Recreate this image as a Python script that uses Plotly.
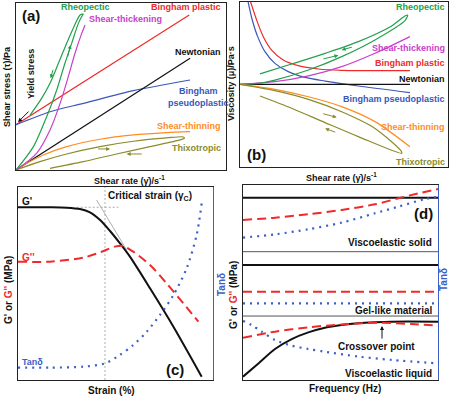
import plotly.graph_objects as go

W, H = 449, 397

# ---------------- Panel (a): shear stress vs shear rate (arbitrary units 0-100)
a_bingham_x = [0, 82.5]
a_bingham_y = [27.1, 92.8]
a_pseudo_x = [0, 16.2, 32.1, 55.9, 82.9]
a_pseudo_y = [27.1, 34.9, 39.9, 47.5, 53.9]
a_newton_x = [0, 82.9]
a_newton_y = [0, 66.9]
a_thin_x = [0, 5.1, 13, 24.1, 40, 55.9, 71.7, 82.9]
a_thin_y = [0, 4, 9, 14, 18.4, 21, 22.4, 23]
a_thixo_x = [0, 11.4, 24.1, 40, 55.9, 71.7, 79.7, 80.2, 78.1, 63.8, 47.9, 32, 16.2]
a_thixo_y = [0, 5, 9.6, 14, 17.2, 19.2, 19.8, 19, 18, 14, 9.6, 5, 1]
a_thick_x = [0, 9.8, 16.2, 21, 24.9, 28.1, 31.3, 32.9]
a_thick_y = [0, 10, 24, 39.9, 55.9, 69.9, 81.8, 86.8]
a_rheo_x = [0, 8.3, 14.6, 19.4, 23.3, 26.5, 29.7, 31.7, 32, 30.5, 27.6, 24.1, 20.2, 16.2, 12.2, 6.7]
a_rheo_y = [0, 14, 31.9, 47.9, 63.9, 75.8, 87.8, 92.8, 93.4, 92.8, 85.8, 75.8, 63.9, 51.9, 42.9, 32.9]
# small direction arrows (tail x, tail y, head x, head y)
a_arrows_rheo = [(24.4, 66.9, 26.0, 74.9), (17.8, 60.9, 16.5, 54.9)]
a_arrows_thixo = [(38.4, 12.6, 44.8, 12.6), (60.6, 9.6, 52.7, 9.6)]
a_yield_arrow = (6.7, 35.9, 1.0, 28.7)

# ---------------- Panel (b): viscosity vs shear rate
b_newton_x = [0, 81.7]
b_newton_y = [50.1, 50.1]
b_bingham_x = [4.8, 8, 11.2, 15.2, 20.8, 28, 37.7, 48.9, 81.7]
b_bingham_y = [101.2, 89.1, 79, 70.9, 64.8, 61.4, 59.4, 58.6, 58.4]
b_pseudo_x = [3.7, 5.9, 8.5, 12, 16.8, 23.2, 31.3, 40.9, 56.9, 81.7]
b_pseudo_y = [101.2, 89.1, 79, 69.9, 62.8, 57.8, 54.3, 52.1, 49.1, 45.1]
b_thick_x = [0, 16.8, 32.9, 48.9, 64.9, 81.7]
b_thick_y = [50.1, 51.7, 55.2, 60.8, 68.9, 79]
b_rheo_x = [0, 8.8, 16.8, 32.9, 48.9, 64.9, 79.3, 80.6, 79.3, 72.9, 56.9, 40.9, 24.8, 9.6]
b_rheo_y = [50.1, 50.7, 52.7, 58.8, 66.9, 77, 88.7, 92.1, 91.5, 85.5, 76, 68.9, 62.4, 56.4]
b_thin_x = [0, 16.8, 32.9, 48.9, 64.9, 81.7]
b_thin_y = [50.1, 47.1, 42.6, 36.6, 27.5, 12.3]
b_thixo_x = [0, 16.8, 32.9, 48.9, 64.9, 77.7, 77.7, 56.9, 40.9, 24.8, 9.6]
b_thixo_y = [50.1, 46.3, 41, 33.5, 23.4, 9.3, 8.3, 18.4, 26.9, 35.6, 43]
b_arrows_rheo = [(39.3, 65.3, 47.3, 67.7), (54.5, 72.9, 48.9, 70.9)]
b_arrows_thixo = [(39.3, 32.5, 46.5, 30.1), (46.5, 20.8, 40.9, 23.4)]

# ---------------- Panel (c): amplitude sweep
c_gp_x = [0, 16.4, 25, 31.8, 36.9, 42.1, 47.2, 52.3, 57.4, 67.7, 79.7, 94.2]
c_gp_y = [89.5, 89.5, 89.3, 88.6, 86.9, 82.9, 77.2, 70.8, 63.9, 47.5, 27.6, 1.7]
c_gpp_x = [0, 16.4, 33.5, 42.1, 49.7, 54, 59.1, 67.7, 76.2, 84.8, 92.5]
c_gpp_y = [61.3, 61.3, 63.4, 66.1, 69.1, 69.4, 66.5, 59.6, 50.1, 39.7, 30.2]
c_tan_x = [0, 16.4, 33.5, 44.6, 52.3, 59.1, 66, 72.8, 79.7, 86.5, 91.6, 94.2]
c_tan_y = [6.4, 6.4, 6.9, 8.6, 13, 18.1, 25, 33.7, 44, 57.9, 75.1, 91.5]
c_critical_x = 44.6
c_plateau_guide_x = [30.1, 51.5]
c_plateau_guide_y = [89.5, 89.5]
c_tangent_x = [40.3, 55.7]
c_tangent_y = [93.3, 67.4]

# ---------------- Panel (d): frequency sweeps (three regimes)
d_separators = [32.8, 65.8]
d_solid_gp = [93.5, 93.5]
d_solid_gpp_x = [0, 16.4, 33.5, 50.6, 67.7, 79.7, 89.9, 100]
d_solid_gpp_y = [82.1, 83.2, 85, 87.2, 90.1, 93.2, 95.7, 97.9]
d_solid_tan_x = [0, 16.4, 33.5, 50.6, 67.7, 79.7, 93.3, 100]
d_solid_tan_y = [73, 74.7, 77.3, 80.7, 85.5, 88.9, 92.8, 94]
d_gel_gp = [59, 59]
d_gel_gpp = [45.3, 45.3]
d_gel_tan = [39.3, 39.3]
d_liq_gp_x = [0, 7.9, 16.4, 25, 33.5, 42, 50.6, 59.1, 67.7, 76.2, 100]
d_liq_gp_y = [1.7, 8.5, 15.9, 21, 24.4, 26.8, 28.2, 29.1, 29.6, 29.9, 29.9]
d_liq_gpp_x = [0, 16.4, 33.5, 50.6, 71.1, 86.5, 100]
d_liq_gpp_y = [21.7, 24.8, 27, 28.5, 29.4, 28.7, 27.9]
d_liq_tan_x = [0, 4.4, 9.6, 16.4, 25, 33.5, 42, 59.1, 76.2, 100]
d_liq_tan_y = [30.3, 28.2, 24.8, 20.5, 17.6, 15.9, 14.5, 12, 10.3, 8.5]
d_crossover_arrow = (71.3, 20.5, 71.3, 27.7)

# ---------------- styles
GREEN = '#23a04c'
MAGENTA = '#c940c9'
RED = '#ef2a2a'
BLACK = '#111111'
BLUE = '#3b56b8'
ORANGE = '#ff8c1f'
OLIVE = '#8b8b2c'
TANBLUE = '#3d5ec6'
GRAY = '#9a9a9a'
FONT = 'Liberation Sans, Arial, sans-serif'

fig = go.Figure()


def line(xs, ys, ax, color, width=1.2, dash='solid', shape='spline', yax=None):
    fig.add_trace(go.Scatter(
        x=xs, y=ys, mode='lines', xaxis='x' + ax, yaxis='y' + (yax if yax is not None else ax),
        line=dict(color=color, width=width, dash=dash, shape=shape, smoothing=0.8),
        hoverinfo='skip', showlegend=False))


# (a)
line(a_bingham_x, a_bingham_y, '', RED, shape='linear')
line(a_pseudo_x, a_pseudo_y, '', BLUE)
line(a_newton_x, a_newton_y, '', BLACK, shape='linear')
line(a_thin_x, a_thin_y, '', ORANGE)
line(a_thixo_x, a_thixo_y, '', OLIVE)
line(a_thick_x, a_thick_y, '', MAGENTA)
line(a_rheo_x, a_rheo_y, '', GREEN)

# (b)
line(b_bingham_x, b_bingham_y, '2', RED)
line(b_pseudo_x, b_pseudo_y, '2', BLUE)
line(b_newton_x, b_newton_y, '2', BLACK, shape='linear')
line(b_thick_x, b_thick_y, '2', MAGENTA)
line(b_rheo_x, b_rheo_y, '2', GREEN)
line(b_thin_x, b_thin_y, '2', ORANGE)
line(b_thixo_x, b_thixo_y, '2', OLIVE)

# (c)
line([c_critical_x, c_critical_x], [0, 100], '3', GRAY, width=0.8, dash='2px,2px', shape='linear')
line(c_plateau_guide_x, c_plateau_guide_y, '3', GRAY, width=0.8, dash='2px,2px', shape='linear')
line(c_tangent_x, c_tangent_y, '3', GRAY, width=0.8, shape='linear')
line(c_gp_x, c_gp_y, '3', BLACK, width=2)
line(c_gpp_x, c_gpp_y, '3', RED, width=2, dash='9px,5px')
line(c_tan_x, c_tan_y, '3', TANBLUE, width=2.2, dash='2px,5px', yax='5')

# (d)
for s in d_separators:
    line([0, 100], [s, s], '4', '#555555', width=1, shape='linear')
line([0, 100], d_solid_gp, '4', BLACK, width=2, shape='linear')
line(d_solid_gpp_x, d_solid_gpp_y, '4', RED, width=2, dash='9px,5px')
line(d_solid_tan_x, d_solid_tan_y, '4', TANBLUE, width=2.2, dash='2px,5px', yax='6')
line([0, 100], d_gel_gp, '4', BLACK, width=2, shape='linear')
line([0, 100], d_gel_gpp, '4', RED, width=2, dash='9px,5px', shape='linear')
line([0, 100], d_gel_tan, '4', TANBLUE, width=2.2, dash='2px,5px', shape='linear', yax='6')
line(d_liq_gp_x, d_liq_gp_y, '4', BLACK, width=2)
line(d_liq_gpp_x, d_liq_gpp_y, '4', RED, width=2, dash='9px,5px')
line(d_liq_tan_x, d_liq_tan_y, '4', TANBLUE, width=2.2, dash='2px,5px', yax='6')

ann = []


def txt(x, y, text, color=BLACK, size=9, ref='', xanchor='center', angle=0, paper=False):
    d = dict(x=x, y=y, text='<b>' + text + '</b>', showarrow=False, xanchor=xanchor, yanchor='middle',
             textangle=angle, font=dict(family=FONT, size=size, color=color))
    if paper:
        d.update(xref='paper', yref='paper', x=x / W, y=1 - y / H)
    else:
        d.update(xref='x' + ref, yref='y' + ref)
    ann.append(d)


def arrow(t, ref, color, width=1, head=2, size=0.8):
    ann.append(dict(x=t[2], y=t[3], ax=t[0], ay=t[1], xref='x' + ref, yref='y' + ref,
                    axref='x' + ref, ayref='y' + ref, text='', showarrow=True,
                    arrowhead=head, arrowsize=size, arrowwidth=width, arrowcolor=color))


for t in a_arrows_rheo:
    arrow(t, '', GREEN)
for t in a_arrows_thixo:
    arrow(t, '', OLIVE)
arrow(a_yield_arrow, '', BLACK)
for t in b_arrows_rheo:
    arrow(t, '2', GREEN)
for t in b_arrows_thixo:
    arrow(t, '2', OLIVE)
arrow(d_crossover_arrow, '4', BLACK)

# (a) labels
txt(7.1, 92.8, '(a)', size=15)
txt(32.9, 97.6, 'Rheopectic', GREEN)
txt(33.8, 90.4, 'Shear-thickening', MAGENTA, xanchor='left')
txt(98.6, 97.6, 'Bingham plastic', RED, xanchor='right')
txt(98.6, 70.7, 'Newtonian', BLACK, xanchor='right')
txt(71.4, 43.7, 'Bingham<br>pseudoplastic', BLUE, xanchor='left')
txt(98.6, 26.3, 'Shear-thinning', ORANGE, xanchor='right')
txt(98.6, 13.2, 'Thixotropic', OLIVE, xanchor='right')
txt(7.1, 57.5, 'Yield stress', BLACK, angle=-90)

# (b) labels
txt(7.7, 7.3, '(b)', size=15, ref='2')
txt(99.5, 97, 'Rheopectic', GREEN, ref='2', xanchor='right')
txt(99.5, 72.1, 'Shear-thickening', MAGENTA, ref='2', xanchor='right')
txt(99.5, 63, 'Bingham plastic', RED, ref='2', xanchor='right')
txt(99.5, 53.3, 'Newtonian', BLACK, ref='2', xanchor='right')
txt(99.5, 41.2, 'Bingham pseudoplastic', BLUE, ref='2', xanchor='right')
txt(99.5, 24.2, 'Shear-thinning', ORANGE, ref='2', xanchor='right')
txt(99.5, 3, 'Thixotropic', OLIVE, ref='2', xanchor='right')

# (c) labels
txt(1, 92.7, "G'", BLACK, size=10, ref='3', xanchor='left')
txt(1, 63.7, "G''", RED, size=10, ref='3', xanchor='left')
txt(1, 9.3, 'Tanδ', TANBLUE, size=9, ref='3', xanchor='left')
txt(67.7, 95.3, 'Critical strain (γ<sub>C</sub>)', BLACK, size=10, ref='3')
txt(80.5, 5.2, '(c)', size=15, ref='3')

# (d) labels
txt(92.8, 85.6, '(d)', size=15, ref='4')
txt(97.9, 70.3, 'Viscoelastic solid', BLACK, size=10, ref='4', xanchor='right')
txt(97.9, 35.9, 'Gel-like material', BLACK, size=10, ref='4', xanchor='right')
txt(68.7, 17.4, 'Crossover point', BLACK, size=10, ref='4')
txt(97.9, 3.1, 'Viscoelastic liquid', BLACK, size=10, ref='4', xanchor='right')

# axis titles
txt(7, 87, 'Shear stress (τ)/Pa', angle=-90, paper=True)
txt(129, 180, 'Shear rate (γ̇)/s<sup>-1</sup>', paper=True)
txt(231, 83, 'Viscosity (μ)/Pa·s', angle=-90, paper=True)
txt(341, 177, 'Shear rate (γ̇)/s<sup>-1</sup>', paper=True)
gtitle = "G' or <span style='color:%s'>G''</span> (MPa)" % RED
txt(8, 290, gtitle, size=10, angle=-90, paper=True)
txt(221, 285, 'Tanδ', TANBLUE, size=10, angle=-90, paper=True)
txt(111, 390, 'Strain (%)', size=10, paper=True)
txt(233, 295, gtitle, size=10, angle=-90, paper=True)
txt(443, 280, 'Tanδ', TANBLUE, size=10, angle=-90, paper=True)
txt(345, 388, 'Frequency (Hz)', size=10, paper=True)

common = dict(range=[0, 100], showticklabels=False, ticks='', showgrid=False, zeroline=False,
              showline=True, linecolor='#222222', linewidth=1, fixedrange=True)


def dom_x(a, b):
    return [a / W, b / W]


def dom_y(top, bottom):
    return [1 - bottom / H, 1 - top / H]


fig.update_layout(
    width=W, height=H, margin=dict(l=0, r=0, t=0, b=0),
    paper_bgcolor='white', plot_bgcolor='white',
    xaxis=dict(domain=dom_x(16, 226), anchor='y', mirror=True, **common),
    yaxis=dict(domain=dom_y(3, 170), anchor='x', mirror=True, **common),
    xaxis2=dict(domain=dom_x(240, 448), anchor='y2', mirror=True, **common),
    yaxis2=dict(domain=dom_y(2, 167), anchor='x2', mirror=True, **common),
    xaxis3=dict(domain=dom_x(18, 213), anchor='y3', mirror=True, **common),
    yaxis3=dict(domain=dom_y(187, 380), anchor='x3', **common),
    xaxis4=dict(domain=dom_x(243, 438), anchor='y4', mirror=True, **common),
    yaxis4=dict(domain=dom_y(185, 380), anchor='x4', **common),
    yaxis5=dict(overlaying='y3', anchor='x3', side='right',
                **{**common, 'linecolor': TANBLUE}),
    yaxis6=dict(overlaying='y4', anchor='x4', side='right',
                **{**common, 'linecolor': TANBLUE}),
    annotations=ann,
)

fig.write_html('out.html', config={'displayModeBar': False},
               post_script="document.body.style.margin='0';document.body.style.overflow='hidden';")
